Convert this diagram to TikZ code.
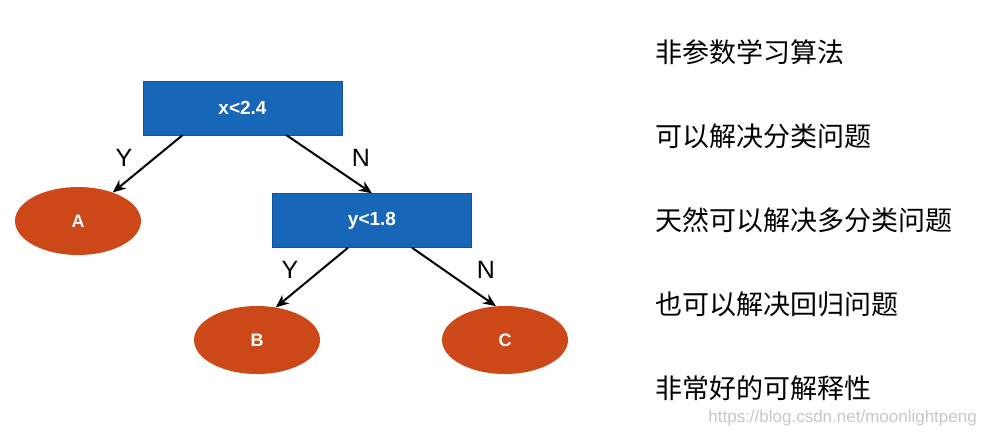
\documentclass[tikz,border=0pt]{standalone}
\usepackage{fontspec}
\setmainfont{Liberation Sans}
\newfontfamily\cjk{Noto Sans CJK SC}
\usepackage{xcolor}
\usetikzlibrary{
    arrows.meta,
    shapes,
    positioning,
    calc
}
\definecolor{treeblue}{RGB}{24,102,184}
\definecolor{leaforange}{RGB}{204,72,24}

\begin{document}
\begin{tikzpicture}[x=1pt,y=-1pt,
        test/.style={fill=treeblue,draw=treeblue!80!black,minimum width=199pt,minimum height=54pt,text=white,font=\bfseries\fontsize{19}{22}\selectfont},
        leaf/.style={ellipse,fill=leaforange,minimum width=126pt,minimum height=68pt,text=white,font=\bfseries\fontsize{18}{20}\selectfont},
        branch/.style={-{Stealth[length=13pt,width=11pt]},line width=2pt,black},
        answer/.style={font=\fontsize{25}{28}\selectfont}]
                \useasboundingbox (0,0) rectangle (985,437);
                \node[test] (x24) at (242.5,108) {x<2.4};
                \node[leaf] (A) at (78,221) {A};
                \node[test] (y18) at (372,220.5) {y<1.8};
                \node[leaf] (B) at (257,340) {B};
                \node[leaf] (C) at (505,340) {C};
                \draw[branch] ($(x24.south)+(-60,0)$) -- (A);
                \draw[branch] ($(x24.south)+(44,0)$) -- (y18.north);
                \draw[branch] ($(y18.south)+(-24,0)$) -- (B.60);
                \draw[branch] ($(y18.south)+(40,0)$) -- (C.105);
                \node[answer] (y1) at (124,158) {Y};
                \node[answer] (n1) at (361,158) {N};
                \node[answer] (y2) at (290,270) {Y};
                \node[answer] (n2) at (486,270) {N};
                \foreach \t [count=\i] in {非参数学习算法,可以解决分类问题,天然可以解决多分类问题,也可以解决回归问题,非常好的可解释性} \node[anchor=west,inner sep=0pt,font=\cjk\fontsize{27}{30}\selectfont] (p\i) at (655,{52+84*(\i-1)}) {\t};
                \node[anchor=east,inner sep=0pt,text=black!22,font=\fontsize{17}{20}\selectfont] (mark) at (977,418) {https://blog.csdn.net/moonlightpeng};
            \end{tikzpicture}
\end{document}
